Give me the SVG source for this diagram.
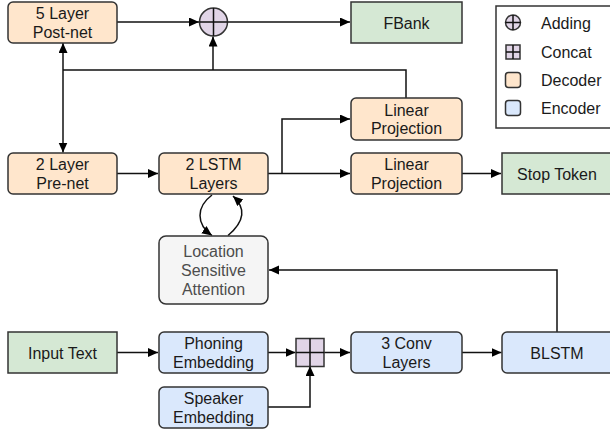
<svg xmlns="http://www.w3.org/2000/svg" width="610" height="431" viewBox="0 0 610 431">
<defs>
<style>
text{font-family:"Liberation Sans",Arial,sans-serif;font-size:16px;fill:#1a1a1a;text-anchor:middle}
.dec{fill:#ffe6cc;stroke:#333;stroke-width:1.5}
.enc{fill:#dae8fc;stroke:#333;stroke-width:1.5}
.io{fill:#d5e8d4;stroke:#333;stroke-width:1.5}
.att{fill:#f5f5f5;stroke:#333;stroke-width:1.5}
.op{fill:#e1d5e7;stroke:#333;stroke-width:1.5}
.ln{fill:none;stroke:#111;stroke-width:1.5}
.arr{fill:none;stroke:#111;stroke-width:1.5;marker-end:url(#ah)}
.leg text{text-anchor:start}
.gray{fill:#4d4d4d}
</style>
<marker id="ah" markerUnits="userSpaceOnUse" markerWidth="11" markerHeight="10" refX="10" refY="4.5" orient="auto">
<path d="M0,0 L10,4.5 L0,9 z" fill="#000"/>
</marker>
<marker id="ahs" markerUnits="userSpaceOnUse" markerWidth="11" markerHeight="10" refX="0" refY="4.5" orient="auto">
<path d="M10,0 L0,4.5 L10,9 z" fill="#000"/>
</marker>
</defs>
<rect width="610" height="431" fill="#fff"/>

<g id="connectors">
<path class="arr" d="M117,22 H199"/>
<path class="arr" d="M228,22 H350"/>
<path class="ln" d="M63,70 H406 V98"/>
<path class="arr" d="M213,70 V36.5"/>
<path class="arr" d="M63,70 V43" />
<path class="arr" d="M63,70 V152.5" />
<path class="arr" d="M117,173.5 H158"/>
<path class="arr" d="M268,173.5 H350"/>
<path class="arr" d="M282,173.5 V119 H350"/>
<path class="arr" d="M462,173.5 H501"/>
<path class="arr" d="M212,195 C196,207 196,224 212,235.5"/>
<path class="arr" d="M228,235.5 C245,221 246,208 233,196"/>
<path class="arr" d="M557,332 V270 H269"/>
<path class="arr" d="M117,352.5 H158"/>
<path class="arr" d="M268,352.5 H295.5"/>
<path class="arr" d="M324,352.5 H350"/>
<path class="arr" d="M462,352.5 H501.5"/>
<path class="arr" d="M268,407 H310 V366"/>
</g>

<g id="postnet"><rect class="dec" x="8" y="2" width="109" height="41" rx="5"/><text x="62.5" y="19">5 Layer</text><text x="62.5" y="37.5">Post-net</text></g>
<g id="adding"><circle class="op" cx="213.5" cy="22" r="14"/><path class="ln" d="M199.5,22 H227.5 M213.5,8 V36"/></g>
<g id="fbank"><rect class="io" x="351" y="2" width="111" height="41"/><text x="406.5" y="28.5">FBank</text></g>
<g id="linproj1"><rect class="dec" x="351" y="98" width="111" height="42" rx="5"/><text x="406.5" y="115.5">Linear</text><text x="406.5" y="134">Projection</text></g>
<g id="prenet"><rect class="dec" x="8" y="153" width="109" height="41" rx="5"/><text x="62.5" y="170">2 Layer</text><text x="62.5" y="189">Pre-net</text></g>
<g id="lstm"><rect class="dec" x="159" y="153" width="109" height="41" rx="5"/><text x="213.5" y="170">2 LSTM</text><text x="213.5" y="189">Layers</text></g>
<g id="linproj2"><rect class="dec" x="351" y="153" width="111" height="41" rx="5"/><text x="406.5" y="170">Linear</text><text x="406.5" y="189">Projection</text></g>
<g id="stoptoken"><rect class="io" x="502" y="153" width="112" height="41"/><text x="557" y="179.5">Stop Token</text></g>
<g id="attention"><rect class="att" x="159" y="236" width="109" height="68" rx="7"/><text class="gray" x="213.5" y="257">Location</text><text class="gray" x="213.5" y="276">Sensitive</text><text class="gray" x="213.5" y="295">Attention</text></g>
<g id="inputtext"><rect class="io" x="8" y="332" width="109" height="41"/><text x="62.5" y="358.5">Input Text</text></g>
<g id="phoning"><rect class="enc" x="159" y="332" width="109" height="41" rx="5"/><text x="213.5" y="349">Phoning</text><text x="213.5" y="368">Embedding</text></g>
<g id="concat"><rect class="op" x="296" y="338.5" width="28" height="28"/><path class="ln" d="M296,352.5 H324 M310,338.5 V366.5"/></g>
<g id="speaker"><rect class="enc" x="159" y="387" width="109" height="41" rx="5"/><text x="213.5" y="404">Speaker</text><text x="213.5" y="423">Embedding</text></g>
<g id="conv"><rect class="enc" x="351" y="332" width="111" height="41" rx="5"/><text x="406.5" y="349">3 Conv</text><text x="406.5" y="368">Layers</text></g>
<g id="blstm"><rect class="enc" x="502" y="332" width="112" height="41" rx="5"/><text x="557" y="358.5">BLSTM</text></g>

<g id="legend" class="leg">
<rect x="496" y="6" width="120" height="122" fill="#fff" stroke="#333" stroke-width="1.5"/>
<circle class="op" cx="513" cy="22.5" r="7.5"/><path class="ln" d="M505.5,22.5 H520.5 M513,15 V30"/>
<text x="541" y="28.5">Adding</text>
<rect class="op" x="506" y="45" width="14" height="14"/><path class="ln" d="M506,52 H520 M513,45 V59"/>
<text x="541" y="58">Concat</text>
<rect class="dec" x="505.5" y="72.5" width="15" height="15" rx="3"/>
<text x="541" y="86">Decoder</text>
<rect class="enc" x="505.5" y="100.5" width="15" height="15" rx="3"/>
<text x="541" y="114">Encoder</text>
</g>
</svg>
